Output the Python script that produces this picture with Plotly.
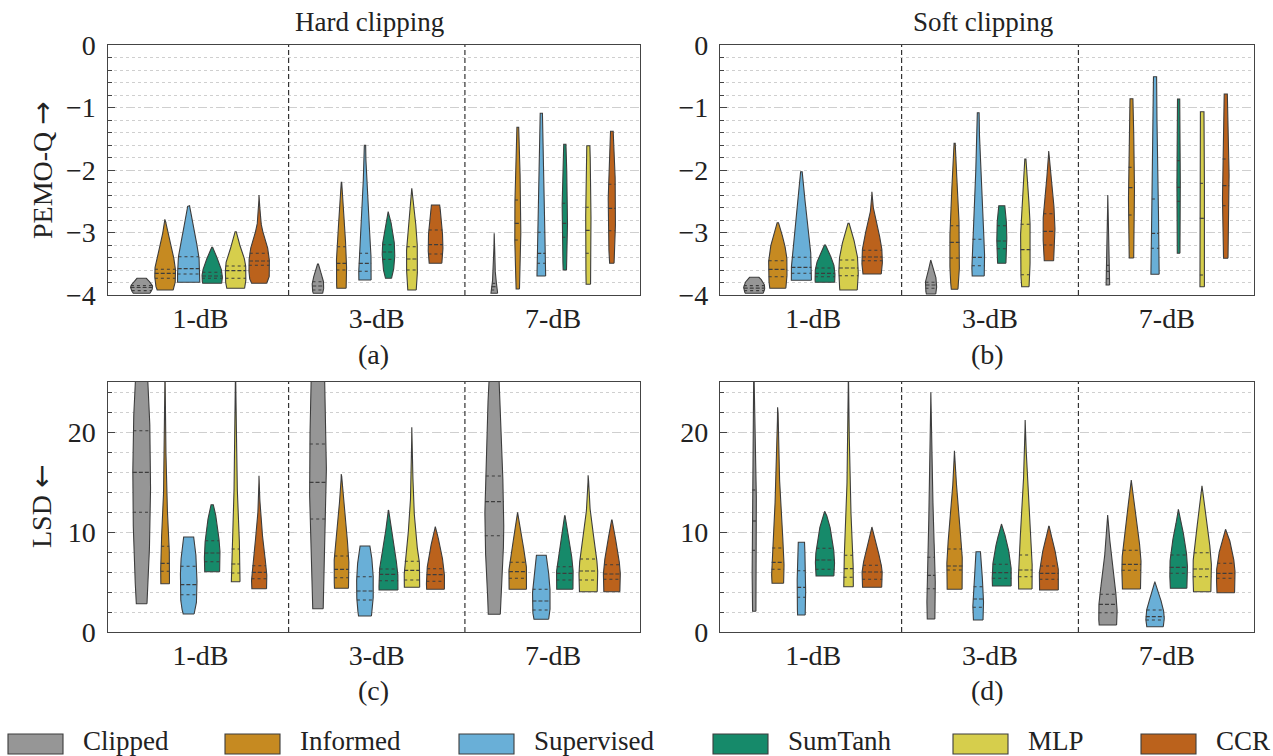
import numpy as np
import plotly.graph_objects as go

# ---------------------------------------------------------------- data
METHODS = ["Clipped", "Informed", "Supervised", "SumTanh", "MLP", "CCR"]
LEVELS = ["1-dB", "3-dB", "7-dB"]
COLORS = ["#969696", "#C68A21", "#69AFD7", "#168A6A", "#D6CE4C", "#BB621C"]
PANEL_LETTERS = ["(a)", "(b)", "(c)", "(d)"]
COLUMN_TITLES = ["Hard clipping", "Soft clipping"]
ROW_TITLES = ["PEMO-Q", "LSD"]
ROW_ARROWS = ["\u2192", "\u2190"]

# quartiles (q1, median, q3) per level, per method
hard_pemo_quart = [
    [(-3.93, -3.88, -3.85), (-3.733, -3.653, -3.589), (-3.664, -3.579, -3.387),
     (-3.733, -3.696, -3.637), (-3.733, -3.611, -3.536), (-3.525, -3.456, -3.333)],
    [(-3.92, -3.856, -3.787), (-3.6, -3.493, -3.227), (-3.621, -3.493, -3.333),
     (-3.43, -3.312, -3.195), (-3.6, -3.424, -3.227), (-3.344, -3.195, -2.96)],
    [(-3.92, -3.867, -3.813), (-3.12, -2.853, -2.48), (-3.493, -3.333, -2.997),
     (-3.077, -2.853, -2.533), (-3.333, -2.965, -2.597), (-2.971, -2.613, -2.229)],
]
# density outline: knot values and relative widths
hard_pemo_knot_y = [
    [[-3.973, -3.92, -3.87, -3.81, -3.733],
     [-3.92, -3.80, -3.65, -3.45, -3.30, -3.12, -2.95, -2.79],
     [-3.797, -3.66, -3.50, -3.39, -3.12, -2.85, -2.65, -2.571],
     [-3.813, -3.74, -3.66, -3.55, -3.45, -3.33, -3.237],
     [-3.893, -3.80, -3.65, -3.50, -3.40, -3.23, -3.08, -2.987],
     [-3.813, -3.70, -3.52, -3.35, -3.12, -2.91, -2.65, -2.40]],
    [[-3.973, -3.92, -3.83, -3.75, -3.65, -3.57, -3.504],
     [-3.893, -3.70, -3.45, -3.20, -2.90, -2.59, -2.197],
     [-3.76, -3.60, -3.33, -2.91, -2.32, -1.95, -1.605],
     [-3.733, -3.60, -3.43, -3.30, -3.10, -2.80, -2.667],
     [-3.92, -3.70, -3.42, -3.15, -2.80, -2.48, -2.293],
     [-3.493, -3.40, -3.20, -3.00, -2.75, -2.56]],
    [[-3.973, -3.90, -3.80, -3.60, -3.30, -3.013],
     [-3.904, -3.60, -3.10, -2.70, -2.20, -1.70, -1.317],
     [-3.696, -3.45, -3.10, -2.60, -1.80, -1.093],
     [-3.6, -3.3, -2.85, -2.4, -2.0, -1.589],
     [-3.829, -3.40, -2.90, -2.40, -1.9, -1.611],
     [-3.493, -3.2, -2.7, -2.3, -1.8, -1.381]],
]
hard_pemo_knot_w = [
    [[0.75, 0.92, 1.0, 0.8, 0.42],
     [0.72, 0.9, 0.94, 0.82, 0.62, 0.36, 0.15, 0.03],
     [1.0, 1.0, 0.97, 0.92, 0.66, 0.33, 0.15, 0.08],
     [0.85, 0.92, 0.9, 0.75, 0.55, 0.25, 0.04],
     [0.8, 0.9, 0.93, 0.88, 0.75, 0.42, 0.18, 0.05],
     [0.68, 0.9, 0.93, 0.86, 0.57, 0.22, 0.07, 0.02]],
    [[0.42, 0.5, 0.52, 0.45, 0.28, 0.14, 0.04],
     [0.42, 0.46, 0.45, 0.38, 0.28, 0.14, 0.02],
     [0.55, 0.56, 0.53, 0.39, 0.2, 0.1, 0.06],
     [0.27, 0.45, 0.55, 0.57, 0.48, 0.18, 0.03],
     [0.38, 0.47, 0.5, 0.46, 0.3, 0.12, 0.02],
     [0.57, 0.62, 0.67, 0.62, 0.5, 0.37]],
    [[0.3, 0.27, 0.18, 0.08, 0.04, 0.01],
     [0.15, 0.2, 0.27, 0.27, 0.22, 0.15, 0.08],
     [0.39, 0.38, 0.33, 0.27, 0.18, 0.1],
     [0.15, 0.2, 0.24, 0.24, 0.17, 0.1],
     [0.2, 0.23, 0.24, 0.22, 0.18, 0.14],
     [0.2, 0.28, 0.33, 0.32, 0.22, 0.12]],
]

soft_pemo_quart = [
    [(-3.93, -3.89, -3.85), (-3.707, -3.589, -3.451), (-3.653, -3.557, -3.397),
     (-3.707, -3.653, -3.568), (-3.691, -3.568, -3.44), (-3.451, -3.392, -3.285)],
    [(-3.893, -3.84, -3.797), (-3.408, -3.157, -2.891), (-3.531, -3.397, -3.109),
     (-3.259, -3.136, -2.891), (-3.675, -3.275, -2.869), (-3.2, -2.981, -2.699)],
    [(-3.739, -3.621, -3.525), (-2.72, -2.283, -1.957), (-3.253, -3.013, -2.464),
     (-2.501, -2.277, -1.851), (-3.68, -2.773, -2.213), (-2.571, -2.251, -1.824)],
]
soft_pemo_knot_y = [
    [[-3.973, -3.92, -3.87, -3.80, -3.717],
     [-3.893, -3.70, -3.59, -3.45, -3.23, -3.01, -2.843],
     [-3.765, -3.65, -3.40, -3.12, -2.69, -2.32, -2.027],
     [-3.797, -3.70, -3.57, -3.44, -3.33, -3.2],
     [-3.92, -3.69, -3.57, -3.44, -3.25, -3.04, -2.853],
     [-3.664, -3.45, -3.29, -3.12, -3.01, -2.80, -2.59, -2.347]],
    [[-3.984, -3.89, -3.80, -3.65, -3.55, -3.44],
     [-3.909, -3.6, -3.16, -2.89, -2.32, -1.95, -1.573],
     [-3.696, -3.53, -3.40, -3.11, -2.85, -2.32, -1.75, -1.083],
     [-3.493, -3.26, -3.0, -2.8, -2.571],
     [-3.867, -3.67, -3.27, -2.87, -2.32, -2.05, -1.824],
     [-3.451, -3.2, -2.98, -2.7, -2.59, -2.21, -1.95, -1.696]],
    [[-3.84, -3.62, -3.3, -2.9, -2.4],
     [-3.408, -2.72, -2.28, -1.96, -1.4, -0.859],
     [-3.669, -3.25, -3.01, -2.46, -1.6, -0.507],
     [-3.333, -2.5, -2.28, -1.85, -1.3, -0.864],
     [-3.867, -3.3, -2.77, -2.21, -1.6, -1.067],
     [-3.413, -2.9, -2.57, -2.25, -1.82, -1.3, -0.784]],
]
soft_pemo_knot_w = [
    [[0.8, 0.92, 0.95, 0.8, 0.42],
     [0.72, 0.82, 0.83, 0.82, 0.65, 0.34, 0.06],
     [0.9, 0.9, 0.87, 0.68, 0.44, 0.23, 0.07],
     [0.87, 0.9, 0.85, 0.65, 0.38, 0.05],
     [0.78, 0.87, 0.87, 0.83, 0.65, 0.36, 0.05],
     [0.82, 0.92, 0.88, 0.74, 0.6, 0.32, 0.1, 0.02]],
    [[0.42, 0.5, 0.5, 0.32, 0.15, 0.03],
     [0.3, 0.42, 0.43, 0.4, 0.26, 0.14, 0.05],
     [0.54, 0.57, 0.57, 0.52, 0.45, 0.3, 0.16, 0.08],
     [0.37, 0.44, 0.45, 0.4, 0.27],
     [0.33, 0.4, 0.43, 0.42, 0.24, 0.13, 0.05],
     [0.42, 0.5, 0.54, 0.5, 0.45, 0.24, 0.1, 0.02]],
    [[0.16, 0.13, 0.09, 0.05, 0.01],
     [0.2, 0.26, 0.27, 0.26, 0.2, 0.13],
     [0.37, 0.37, 0.35, 0.28, 0.2, 0.14],
     [0.12, 0.15, 0.15, 0.15, 0.13, 0.1],
     [0.2, 0.21, 0.21, 0.2, 0.18, 0.16],
     [0.2, 0.26, 0.29, 0.3, 0.28, 0.2, 0.14]],
]

hard_lsd_quart = [
    [(11.97, 15.97, 20.13), (6.07, 6.87, 8.57), (3.73, 4.73, 6.57),
     (7.03, 7.9, 9.13), (5.9, 6.8, 8.3), (5.33, 5.97, 6.63)],
    [(11.3, 14.97, 18.8), (5.43, 6.27, 7.6), (3.2, 4.1, 5.53),
     (5.13, 5.77, 6.3), (5.2, 6.17, 7.07), (5.07, 5.73, 6.33)],
    [(9.63, 13.03, 15.6), (5.37, 6.03, 6.97), (2.2, 3.1, 4.27),
     (5.2, 5.87, 6.53), (5.2, 6.1, 7.3), (5.27, 5.8, 6.73)],
]
hard_lsd_knot_y = [
    [[2.83, 6, 10, 14, 18, 22, 25, 30],
     [4.83, 6.5, 8.5, 10.5, 12.2, 15, 18, 22, 27],
     [1.8, 3.0, 4.5, 6.5, 8.2, 9.5],
     [6.03, 7.0, 8.0, 9.2, 10.5, 11.6, 12.73],
     [5.03, 6.8, 8.3, 10.2, 12.2, 15, 18, 22, 27],
     [4.33, 5.3, 6.6, 7.6, 9.6, 11.6, 13.5, 15.63]],
    [[2.33, 6.2, 11.3, 15, 18.8, 22, 25, 29],
     [4.37, 5.4, 6.3, 7.6, 9.5, 11.9, 13.9, 15.8],
     [1.6, 3.2, 4.5, 6.0, 7.5, 8.6],
     [4.2, 5.1, 6.3, 7.5, 8.5, 9.5, 10.9, 12.2],
     [4.47, 6.2, 7.1, 8.2, 9.7, 11.2, 14.5, 17.5, 20.47],
     [4.27, 5.1, 6.3, 7.5, 8.9, 9.8, 10.53]],
    [[1.77, 6.2, 9.6, 13, 15.6, 19.5, 25, 29],
     [4.27, 5.4, 6.0, 7.0, 8.2, 9.2, 10.2, 11.97],
     [1.27, 2.2, 3.1, 4.3, 5.5, 6.6, 7.67],
     [4.27, 5.2, 6.5, 7.5, 8.5, 9.9, 10.8, 11.63],
     [4.03, 5.2, 6.1, 7.3, 8.2, 9.5, 10.9, 12.9, 15.67],
     [4.03, 5.3, 5.8, 6.7, 7.9, 9.5, 10.5, 11.2]],
]
hard_lsd_knot_w = [
    [[0.48, 0.62, 0.74, 0.8, 0.78, 0.7, 0.58, 0.35],
     [0.39, 0.4, 0.36, 0.28, 0.2, 0.12, 0.07, 0.04, 0.02],
     [0.49, 0.7, 0.75, 0.73, 0.6, 0.45],
     [0.67, 0.7, 0.7, 0.62, 0.48, 0.33, 0.1],
     [0.39, 0.39, 0.36, 0.28, 0.21, 0.13, 0.08, 0.05, 0.02],
     [0.66, 0.69, 0.62, 0.5, 0.3, 0.14, 0.05, 0.02]],
    [[0.47, 0.56, 0.7, 0.76, 0.73, 0.68, 0.62, 0.4],
     [0.63, 0.66, 0.67, 0.64, 0.5, 0.28, 0.1, 0.02],
     [0.58, 0.73, 0.76, 0.72, 0.6, 0.44],
     [0.85, 0.86, 0.8, 0.64, 0.5, 0.35, 0.14, 0.02],
     [0.69, 0.7, 0.65, 0.5, 0.36, 0.24, 0.1, 0.05, 0.02],
     [0.8, 0.82, 0.76, 0.6, 0.36, 0.15, 0.02]],
    [[0.54, 0.7, 0.85, 0.84, 0.76, 0.66, 0.5, 0.3],
     [0.78, 0.8, 0.8, 0.72, 0.55, 0.4, 0.25, 0.02],
     [0.66, 0.78, 0.8, 0.78, 0.7, 0.56, 0.44],
     [0.73, 0.76, 0.73, 0.62, 0.48, 0.28, 0.14, 0.02],
     [0.8, 0.84, 0.84, 0.75, 0.66, 0.48, 0.3, 0.12, 0.02],
     [0.72, 0.76, 0.76, 0.7, 0.54, 0.3, 0.12, 0.02]],
]

soft_lsd_quart = [
    [(8.17, 11.1, 14.2), (6.27, 6.97, 8.4), (3.47, 4.47, 6.13),
     (6.27, 7.2, 8.37), (5.47, 6.33, 7.67), (5.27, 6.0, 6.67)],
    [(4.33, 5.67, 7.47), (6.2, 6.6, 8.3), (2.47, 3.3, 4.53),
     (5.37, 5.93, 6.77), (5.53, 6.2, 7.7), (5.27, 5.87, 6.6)],
    [(1.93, 2.77, 3.77), (6.17, 6.77, 8.17), (1.2, 1.53, 2.2),
     (5.87, 6.47, 7.7), (5.53, 6.3, 7.93), (5.37, 5.87, 6.87)],
]
soft_lsd_knot_y = [
    [[2.07, 5, 8.2, 11.1, 14.2, 18, 22, 27],
     [4.87, 6.3, 7.0, 8.4, 9.5, 12.2, 16.2, 19.5, 22.47],
     [1.7, 3.5, 4.5, 6.1, 7.5, 8.97],
     [5.6, 6.3, 7.2, 8.4, 9.5, 10.5, 11.3, 12.07],
     [4.53, 5.5, 6.3, 7.7, 9.5, 11.2, 14, 17, 21, 27],
     [4.47, 5.3, 6.0, 6.7, 7.5, 8.9, 9.8, 10.5]],
    [[1.3, 4.3, 5.7, 7.5, 9.5, 12.9, 17.5, 21, 23.97],
     [4.27, 6.2, 6.6, 8.3, 9.8, 11.2, 14.5, 16.5, 18.13],
     [1.2, 2.5, 3.3, 4.5, 6.2, 8.03],
     [4.6, 5.4, 5.9, 6.8, 7.5, 8.5, 9.2, 10.0, 10.8],
     [4.3, 5.5, 6.2, 7.7, 9.5, 11.2, 14.5, 17.9, 21.2],
     [4.2, 5.3, 5.9, 6.6, 7.5, 8.5, 9.2, 10.0, 10.6]],
    [[0.7, 1.9, 2.8, 3.8, 5.5, 7.5, 9.5, 11.7],
     [4.3, 6.2, 6.8, 8.2, 10.5, 12.9, 14.5, 15.2],
     [0.53, 1.2, 1.53, 2.2, 2.9, 3.9, 4.5, 5.03],
     [4.37, 5.9, 6.5, 7.7, 9.0, 10.2, 11.3, 12.27],
     [4.03, 5.5, 6.3, 7.9, 9.3, 10.5, 12.9, 14.63],
     [3.93, 5.4, 5.9, 6.9, 7.9, 8.9, 9.6, 10.27]],
]
soft_lsd_knot_w = [
    [[0.15, 0.18, 0.2, 0.2, 0.18, 0.14, 0.09, 0.04],
     [0.52, 0.56, 0.55, 0.5, 0.44, 0.28, 0.13, 0.06, 0.02],
     [0.34, 0.38, 0.38, 0.37, 0.33, 0.28],
     [0.8, 0.85, 0.86, 0.76, 0.6, 0.45, 0.25, 0.03],
     [0.43, 0.44, 0.42, 0.38, 0.3, 0.24, 0.16, 0.1, 0.05, 0.02],
     [0.86, 0.9, 0.9, 0.82, 0.66, 0.36, 0.16, 0.02]],
    [[0.34, 0.38, 0.37, 0.33, 0.25, 0.17, 0.09, 0.05, 0.02],
     [0.67, 0.7, 0.7, 0.64, 0.52, 0.4, 0.18, 0.07, 0.02],
     [0.43, 0.48, 0.47, 0.42, 0.32, 0.2],
     [0.84, 0.86, 0.86, 0.8, 0.72, 0.55, 0.42, 0.2, 0.03],
     [0.6, 0.62, 0.62, 0.56, 0.46, 0.36, 0.2, 0.08, 0.02],
     [0.84, 0.86, 0.86, 0.8, 0.65, 0.48, 0.32, 0.12, 0.02]],
    [[0.78, 0.83, 0.8, 0.72, 0.5, 0.3, 0.15, 0.02],
     [0.81, 0.86, 0.86, 0.78, 0.52, 0.27, 0.08, 0.02],
     [0.74, 0.82, 0.83, 0.75, 0.6, 0.3, 0.14, 0.02],
     [0.74, 0.79, 0.79, 0.72, 0.55, 0.37, 0.15, 0.02],
     [0.78, 0.82, 0.83, 0.76, 0.6, 0.47, 0.18, 0.02],
     [0.79, 0.83, 0.83, 0.76, 0.6, 0.42, 0.2, 0.02]],
]

PEMO_TICKS = [0, -1, -2, -3, -4]
LSD_TICKS = [0, 10, 20]

# ---------------------------------------------------------------- style / layout
W, H = 1273, 756
FONT = "Liberation Serif, Times New Roman, serif"
FS = 28
EDGE = "#3d3d3d"
FRAME = "#444444"
GRID = "#cfcfcf"
SLOT = 0.8 / len(METHODS)
HALF = 0.063
X_RANGE = [-0.527, 2.493]

PX_A = (107.5, 640.0)
PX_B = (720.0, 1254.0)
PY_TOP = (45.0, 295.0)
PY_BOT = (382.0, 632.0)
LEGEND_X = [8, 225, 459, 713, 953, 1141]


def xdom(px):
    return [px[0] / W, px[1] / W]


def ydom(py):
    return [1 - py[1] / H, 1 - py[0] / H]


def pchip(xk, yk, xq):
    xk = np.asarray(xk, float)
    yk = np.asarray(yk, float)
    xq = np.asarray(xq, float)
    n = len(xk)
    h = np.diff(xk)
    d = np.diff(yk) / h
    m = np.zeros(n)
    if n == 2:
        m[:] = d[0]
    else:
        for k in range(1, n - 1):
            if d[k - 1] * d[k] > 0:
                w1 = 2 * h[k] + h[k - 1]
                w2 = h[k] + 2 * h[k - 1]
                m[k] = (w1 + w2) / (w1 / d[k - 1] + w2 / d[k])

        def ends(h0, h1, d0, d1):
            s = ((2 * h0 + h1) * d0 - h0 * d1) / (h0 + h1)
            if np.sign(s) != np.sign(d0):
                s = 0.0
            elif np.sign(d0) != np.sign(d1) and abs(s) > abs(3 * d0):
                s = 3 * d0
            return s

        m[0] = ends(h[0], h[1], d[0], d[1])
        m[-1] = ends(h[-1], h[-2], d[-1], d[-2])
    idx = np.clip(np.searchsorted(xk, xq) - 1, 0, n - 2)
    hh = h[idx]
    t = (xq - xk[idx]) / hh
    h00 = 2 * t**3 - 3 * t**2 + 1
    h10 = t**3 - 2 * t**2 + t
    h01 = -2 * t**3 + 3 * t**2
    h11 = t**3 - t**2
    out = h00 * yk[idx] + h10 * hh * m[idx] + h01 * yk[idx + 1] + h11 * hh * m[idx + 1]
    return np.clip(out, 0.0, None)


panels = [
    (hard_pemo_quart, hard_pemo_knot_y, hard_pemo_knot_w, "x", "y"),
    (soft_pemo_quart, soft_pemo_knot_y, soft_pemo_knot_w, "x2", "y2"),
    (hard_lsd_quart, hard_lsd_knot_y, hard_lsd_knot_w, "x3", "y3"),
    (soft_lsd_quart, soft_lsd_knot_y, soft_lsd_knot_w, "x4", "y4"),
]

fig = go.Figure()

for quart, ky, kw, xa, ya in panels:
    med_x, med_y, q_x, q_y = [], [], [], []
    for li in range(len(LEVELS)):
        for mi in range(len(METHODS)):
            pos = li + (mi - (len(METHODS) - 1) / 2) * SLOT
            ys = ky[li][mi]
            ws = kw[li][mi]
            yy = np.linspace(ys[0], ys[-1], 120)
            ww = pchip(ys, ws, yy) * HALF
            px = np.concatenate([pos + ww, (pos - ww)[::-1], [pos + ww[0]]])
            py = np.concatenate([yy, yy[::-1], [yy[0]]])
            fig.add_trace(go.Scatter(
                x=px, y=py, mode="lines", fill="toself",
                fillcolor=COLORS[mi], line=dict(color=EDGE, width=1.1),
                xaxis=xa, yaxis=ya, showlegend=False, hoverinfo="skip"))
            q1, med, q3 = quart[li][mi]
            for k, qv in enumerate((q1, med, q3)):
                hw = float(pchip(ys, ws, [qv])[0]) * HALF
                if k == 1:
                    med_x += [pos - hw, pos + hw, None]
                    med_y += [qv, qv, None]
                else:
                    q_x += [pos - hw, pos + hw, None]
                    q_y += [qv, qv, None]
    fig.add_trace(go.Scatter(x=q_x, y=q_y, mode="lines",
                             line=dict(color=EDGE, width=1.1, dash="dot"),
                             xaxis=xa, yaxis=ya, showlegend=False, hoverinfo="skip"))
    fig.add_trace(go.Scatter(x=med_x, y=med_y, mode="lines",
                             line=dict(color=EDGE, width=1.2, dash="4px,2px"),
                             xaxis=xa, yaxis=ya, showlegend=False, hoverinfo="skip"))

tickfont = dict(family=FONT, size=FS, color="#222222")


def xaxis_cfg(px, py_anchor):
    return dict(domain=xdom(px), range=X_RANGE, tickvals=[0, 1, 2], ticktext=LEVELS,
                ticks="", showline=True, mirror=True, linecolor=FRAME, linewidth=1.4,
                showgrid=False, zeroline=False, tickfont=tickfont, automargin=False,
                ticklabelstandoff=-2, anchor=py_anchor, fixedrange=True)


def yaxis_cfg(py, rng, tickvals, minor_dt, anchor):
    return dict(domain=ydom(py), range=rng, tickvals=tickvals, ticks="inside",
                ticklen=7, tickwidth=1.2, tickcolor=FRAME, showline=True, mirror=True,
                linecolor=FRAME, linewidth=1.4, showgrid=True, gridcolor=GRID,
                griddash="dash", gridwidth=1, zeroline=False, tickfont=tickfont,
                ticklabelstandoff=5, anchor=anchor, fixedrange=True, automargin=False,
                minor=dict(dtick=minor_dt, ticks="inside", ticklen=4, tickwidth=1,
                           tickcolor=FRAME, showgrid=True, gridcolor=GRID,
                           griddash="dot", gridwidth=1))


shapes = []
for xa, ya in [("x", "y"), ("x2", "y2"), ("x3", "y3"), ("x4", "y4")]:
    for xv in (0.5, 1.5):
        shapes.append(dict(type="line", xref=xa, yref=f"{ya} domain", x0=xv, x1=xv,
                           y0=0, y1=1, line=dict(color="#333333", width=1.2, dash="5px,3px"),
                           layer="above"))

annotations = []
for ci, px in enumerate((PX_A, PX_B)):
    xc = (px[0] + px[1]) / 2 / W
    annotations.append(dict(x=xc - 4 / W, y=1 - 22 / H, xref="paper", yref="paper",
                            text=COLUMN_TITLES[ci], showarrow=False,
                            font=dict(family=FONT, size=FS - 1, color="#222222"),
                            xanchor="center", yanchor="middle"))
    annotations.append(dict(x=xc, y=1 - 355 / H, xref="paper", yref="paper",
                            text=PANEL_LETTERS[ci], showarrow=False, font=tickfont,
                            xanchor="center", yanchor="middle"))
    annotations.append(dict(x=xc, y=1 - 690 / H, xref="paper", yref="paper",
                            text=PANEL_LETTERS[ci + 2], showarrow=False, font=tickfont,
                            xanchor="center", yanchor="middle"))
for ri, py in enumerate((PY_TOP, PY_BOT)):
    label = (ROW_TITLES[ri] + " <span style=\"font-family:'DejaVu Sans'\">"
             + ROW_ARROWS[ri] + "</span>")
    annotations.append(dict(x=42 / W, y=1 - (py[0] + py[1]) / 2 / H, xref="paper",
                            yref="paper", text=label, showarrow=False,
                            textangle=-90, font=tickfont, xanchor="center",
                            yanchor="middle"))

# legend drawn as patches + labels along the bottom
for mi, name in enumerate(METHODS):
    x0 = LEGEND_X[mi]
    shapes.append(dict(type="rect", xref="paper", yref="paper",
                       x0=x0 / W, x1=(x0 + 55) / W, y0=1 - 754 / H, y1=1 - 734 / H,
                       fillcolor=COLORS[mi], line=dict(color=EDGE, width=1.1)))
    annotations.append(dict(x=(x0 + 73) / W, y=1 - 741 / H, xref="paper", yref="paper",
                            text=name, showarrow=False,
                            font=dict(family=FONT, size=FS - 1, color="#222222"),
                            xanchor="left", yanchor="middle"))

fig.update_layout(
    width=W, height=H, margin=dict(l=0, r=0, t=0, b=0, autoexpand=False),
    paper_bgcolor="white", plot_bgcolor="white", showlegend=False,
    font=dict(family=FONT, size=FS, color="#222222"),
    xaxis=xaxis_cfg(PX_A, "y"),
    xaxis2=xaxis_cfg(PX_B, "y2"),
    xaxis3=xaxis_cfg(PX_A, "y3"),
    xaxis4=xaxis_cfg(PX_B, "y4"),
    yaxis=yaxis_cfg(PY_TOP, [-4, 0], PEMO_TICKS, 0.2, "x"),
    yaxis2=yaxis_cfg(PY_TOP, [-4, 0], PEMO_TICKS, 0.2, "x2"),
    yaxis3=yaxis_cfg(PY_BOT, [0, 25], LSD_TICKS, 2, "x3"),
    yaxis4=yaxis_cfg(PY_BOT, [0, 25], LSD_TICKS, 2, "x4"),
    shapes=shapes, annotations=annotations,
)

fig.write_html("out.html")
